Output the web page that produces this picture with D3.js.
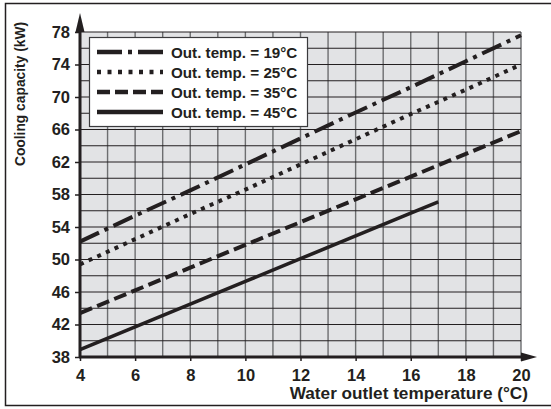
<!DOCTYPE html>
<html>
<head>
<meta charset="utf-8">
<script src="https://cdn.jsdelivr.net/npm/d3@7"></script>
<style>
  html, body { margin: 0; padding: 0; background: #fff; }
  svg { display: block; }
  text { font-family: Arial, "Liberation Sans", sans-serif; font-weight: bold; fill: #231f20; }
</style>
</head>
<body>
<svg id="chart" width="551" height="409"></svg>
<script>
// Water outlet temperature (°C)
const waterTemps = [4, 6, 8, 10, 12, 14, 16, 18, 20];
const waterTemps45 = [4, 6, 8, 10, 12, 14, 16, 17];

// Cooling capacity (kW) per outdoor temperature
const cap19 = [52.2, 55.4, 58.5, 61.7, 64.9, 68.1, 71.2, 74.4, 77.6];
const cap25 = [49.4, 52.5, 55.6, 58.6, 61.7, 64.8, 67.9, 70.9, 74.0];
const cap35 = [43.4, 46.2, 49.0, 51.8, 54.6, 57.4, 60.2, 63.0, 65.8];
const cap45 = [38.9, 41.7, 44.5, 47.3, 50.1, 52.9, 55.7, 57.1];

const seriesLabels = ["Out. temp. = 19°C", "Out. temp. = 25°C", "Out. temp. = 35°C", "Out. temp. = 45°C"];
const xTickValues = [4, 6, 8, 10, 12, 14, 16, 18, 20];
const yTickValues = [38, 42, 46, 50, 54, 58, 62, 66, 70, 74, 78];
const xTitle = "Water outlet temperature (°C)";
const yTitle = "Cooling capacity (kW)";

const series = [
  { label: seriesLabels[0], xs: waterTemps, ys: cap19, dash: "21,6,4,6", width: 4 },
  { label: seriesLabels[1], xs: waterTemps, ys: cap25, dash: "4,5.5", width: 4 },
  { label: seriesLabels[2], xs: waterTemps, ys: cap35, dash: "13,5.5", width: 4 },
  { label: seriesLabels[3], xs: waterTemps45, ys: cap45, dash: null, width: 3.6 }
];

const svg = d3.select("#chart");
const ink = "#231f20";
const fontStack = "Arial, 'Liberation Sans', sans-serif";

// outer frame (open on the right)
svg.append("path")
  .attr("d", "M560,3.5 H5.5 V405.5 H560")
  .attr("fill", "none").attr("stroke", ink).attr("stroke-width", 1.5);

const x = d3.scaleLinear().domain([4, 20]).range([80, 521]);
const y = d3.scaleLinear().domain([38, 78]).range([357, 32]);

// plot background
svg.append("rect")
  .attr("x", x(4)).attr("y", y(78))
  .attr("width", x(20) - x(4)).attr("height", y(38) - y(78))
  .attr("fill", "#e2e3e5");

// vertical grid: every 1 °C
svg.append("g")
  .selectAll("line").data(d3.range(5, 21, 1)).join("line")
  .attr("x1", d => x(d)).attr("x2", d => x(d))
  .attr("y1", y(38)).attr("y2", y(78))
  .attr("stroke", "#6d6e70").attr("stroke-width", 1.4);

// horizontal grid: every 2 kW
svg.append("g")
  .selectAll("line").data(d3.range(40, 79, 2)).join("line")
  .attr("x1", x(4)).attr("x2", x(20))
  .attr("y1", d => y(d)).attr("y2", d => y(d))
  .attr("stroke", "#231f20").attr("stroke-width", 1.1);

// curves
const line = d3.line().x(d => x(d[0])).y(d => y(d[1]));
svg.append("g").selectAll("path").data(series).join("path")
  .attr("d", s => line(s.xs.map((v, i) => [v, s.ys[i]])))
  .attr("fill", "none")
  .attr("stroke", ink)
  .attr("stroke-width", s => s.width)
  .attr("stroke-dasharray", s => s.dash);

// axes
const xAxis = d3.axisBottom(x).tickValues(xTickValues).tickSize(4).tickPadding(8).tickFormat(d3.format("d"));
const gx = svg.append("g").attr("transform", `translate(0,${y(38)})`).call(xAxis);
gx.select(".domain").remove();
gx.selectAll(".tick line").attr("stroke", ink).attr("stroke-width", 1.5);
gx.selectAll(".tick text").attr("font-size", 16.5).attr("fill", ink)
  .attr("font-family", fontStack).attr("font-weight", "bold");

const yAxis = d3.axisLeft(y).tickValues(yTickValues).tickSize(5).tickPadding(5).tickFormat(d3.format("d"));
const gy = svg.append("g").attr("transform", `translate(${x(4)},0)`).call(yAxis);
gy.select(".domain").remove();
gy.selectAll(".tick line").attr("stroke", ink).attr("stroke-width", 1.5);
gy.selectAll(".tick text").attr("font-size", 16.5).attr("fill", ink)
  .attr("font-family", fontStack).attr("font-weight", "bold");

// axis lines with arrowheads
svg.append("line").attr("x1", x(4)).attr("x2", x(4)).attr("y1", y(38) + 1).attr("y2", 28)
  .attr("stroke", ink).attr("stroke-width", 3);
svg.append("path")
  .attr("d", `M${x(4)},13 L${x(4) - 4.5},32 L${x(4) + 4.5},32 Z`).attr("fill", ink);
svg.append("line").attr("x1", x(4) - 1).attr("x2", 524).attr("y1", y(38)).attr("y2", y(38))
  .attr("stroke", ink).attr("stroke-width", 3);
svg.append("path")
  .attr("d", `M537,${y(38)} L521,${y(38) - 4.5} L521,${y(38) + 4.5} Z`).attr("fill", ink);

// axis titles
svg.append("text")
  .attr("x", 528).attr("y", 399)
  .attr("text-anchor", "end").attr("font-size", 17.2)
  .text(xTitle);
svg.append("text")
  .attr("transform", "translate(25,94) rotate(-90)")
  .attr("text-anchor", "middle").attr("font-size", 13.8)
  .text(yTitle);

// legend
const lg = svg.append("g");
lg.append("rect")
  .attr("x", 89.5).attr("y", 37.5).attr("width", 218).attr("height", 89)
  .attr("fill", "#fff").attr("stroke", "#3a3a3c").attr("stroke-width", 1.2);
const rows = lg.selectAll("g").data(series).join("g")
  .attr("transform", (s, i) => `translate(0,${52 + i * 20})`);
rows.append("line")
  .attr("x1", 97).attr("x2", 163).attr("y1", 0).attr("y2", 0)
  .attr("stroke", ink).attr("stroke-width", 4.5)
  .attr("stroke-dasharray", (s, i) => [ "25,6,4,6", "4,6.5", "13,5", null ][i]);
rows.append("text")
  .attr("x", 171).attr("y", 5.5)
  .attr("font-size", 15.2)
  .text(s => s.label);
</script>
</body>
</html>
